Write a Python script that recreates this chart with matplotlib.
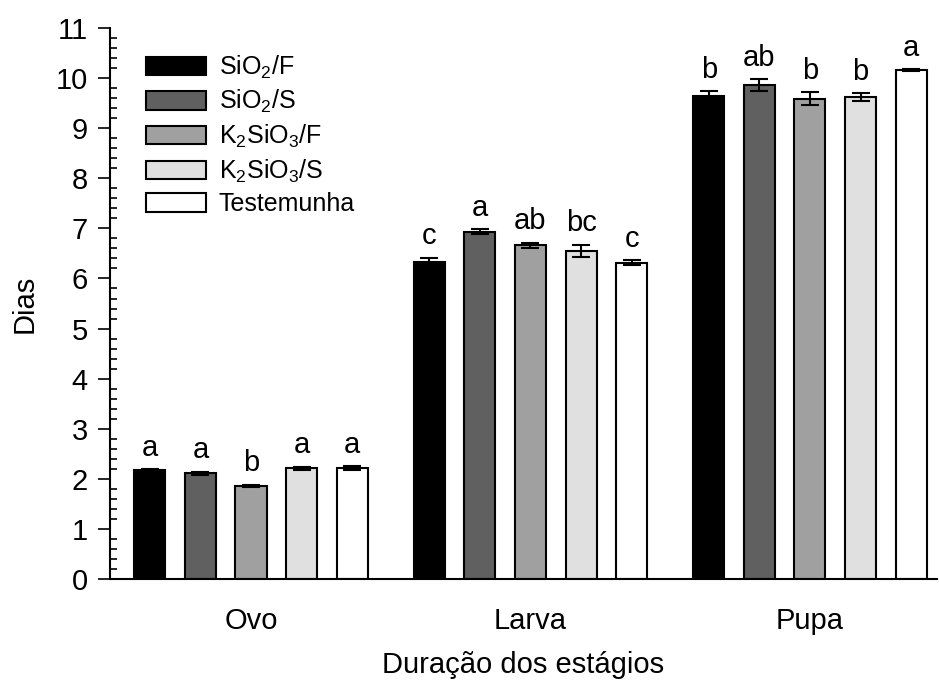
import numpy as np
import matplotlib.pyplot as plt
from matplotlib.ticker import MultipleLocator

plt.rcParams['font.family'] = ['Liberation Sans', 'DejaVu Sans']
plt.rcParams['mathtext.fontset'] = 'custom'
plt.rcParams['mathtext.rm'] = 'Liberation Sans'

# data
stages = ['Ovo', 'Larva', 'Pupa']
treatments = [r'SiO$_\mathregular{2}$/F', r'SiO$_\mathregular{2}$/S',
              r'K$_\mathregular{2}$SiO$_\mathregular{3}$/F', r'K$_\mathregular{2}$SiO$_\mathregular{3}$/S',
              'Testemunha']
colors = ['#000000', '#606060', '#a0a0a0', '#e0e0e0', '#ffffff']

# one list per stage, in treatment order
ovo = [2.18, 2.11, 1.86, 2.21, 2.21]
larva = [6.33, 6.93, 6.66, 6.55, 6.31]
pupa = [9.65, 9.86, 9.59, 9.62, 10.16]

ovo_err = [0.01, 0.03, 0.02, 0.03, 0.04]
larva_err = [0.08, 0.05, 0.05, 0.12, 0.05]
pupa_err = [0.09, 0.12, 0.13, 0.08, 0.02]

ovo_let = ['a', 'a', 'b', 'a', 'a']
larva_let = ['c', 'a', 'ab', 'bc', 'c']
pupa_let = ['b', 'ab', 'b', 'b', 'a']

vals = np.array([ovo, larva, pupa])
errs = np.array([ovo_err, larva_err, pupa_err])
lets = [ovo_let, larva_let, pupa_let]

fig = plt.figure(figsize=(9.39, 6.8), dpi=100)
ax = fig.add_axes([0.117, 0.1485, 0.881, 0.8103])

x = np.arange(len(stages))
pitch = 0.181
width = 0.111

for i in range(len(treatments)):
    pos = x + (i - 2) * pitch
    ax.bar(pos, vals[:, i], width, color=colors[i], edgecolor='black',
           linewidth=1.5, label=treatments[i], zorder=2)
    ax.errorbar(pos, vals[:, i], yerr=errs[:, i], fmt='none', ecolor='black',
                elinewidth=1.5, capsize=6.5, capthick=1.5, zorder=3)
    for j in range(len(stages)):
        ax.text(pos[j], vals[j, i] + errs[j, i] + 0.15, lets[j][i],
                ha='center', va='bottom', fontsize=21)

ax.set_xlim(-0.505, 2.455)
ax.set_ylim(0, 11)
ax.yaxis.set_major_locator(MultipleLocator(1))
ax.yaxis.set_minor_locator(MultipleLocator(0.2))
ax.tick_params(axis='y', which='major', direction='out', length=9, width=1.2,
               labelsize=21, pad=7)
ax.tick_params(axis='y', which='minor', direction='in', length=5, width=1.2)
ax.set_xticks(x)
ax.set_xticklabels(stages)
ax.tick_params(axis='x', length=0, labelsize=21, pad=20)

for s in ['top', 'right']:
    ax.spines[s].set_visible(False)
for s in ['left', 'bottom']:
    ax.spines[s].set_linewidth(1.5)

ax.set_ylabel('Dias', fontsize=21, labelpad=12)
ax.set_xlabel('Duração dos estágios', fontsize=21, labelpad=12)

ax.legend(loc='upper left', bbox_to_anchor=(0.02, 0.99), frameon=False,
          fontsize=18, handlelength=2.4, handleheight=0.75,
          labelspacing=0.3, handletextpad=0.5, borderpad=0.3)

fig.savefig('out.png', dpi=100)
